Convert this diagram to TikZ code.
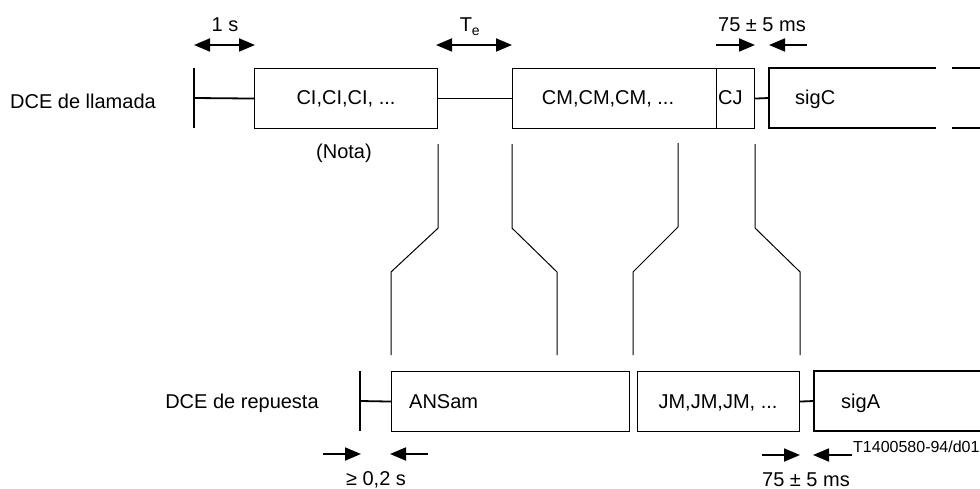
\documentclass[tikz,border=0pt]{standalone}
\usepackage{fontspec}
\setmainfont{Liberation Sans}
\usetikzlibrary{arrows.meta,calc}
\tikzset{
  lbl/.style={inner sep=0pt, font=\fontsize{20}{24}\selectfont, anchor=base},
  lblw/.style={lbl, anchor=base west},
  small/.style={inner sep=0pt, font=\fontsize{16}{19}\selectfont, anchor=base west},
  sigbox/.style={draw, line width=1.1pt, inner sep=0pt, minimum height=60pt, anchor=north west},
  thick line/.style={line width=1.8pt},
  conn/.style={line width=1pt},
  dimarr/.style={line width=1.8pt, -{Triangle[length=16pt,width=13pt]}},
  dimarr2/.style={line width=1.8pt, {Triangle[length=16pt,width=13pt]}-{Triangle[length=16pt,width=13pt]}},
}
\begin{document}
\begin{tikzpicture}[x=1pt,y=-1pt]
\useasboundingbox (0,0) rectangle (980,489);

% ---------- top row: DCE de llamada ----------
\coordinate (t0top) at (194,68);
\coordinate (t0bot) at (194,128);
\coordinate (t0mid) at (194,98);
\draw[thick line] (t0top) -- (t0bot);
\node[sigbox, minimum width=183pt] (ci) at (254,68) {};
\node[sigbox, minimum width=204pt] (cm) at (512,68) {};
\node[sigbox, minimum width=38pt] (cj) at (716,68) {};
\draw[thick line] (t0mid) -- (ci.west);
\draw[thick line] (ci.east) -- (cm.west);
\coordinate (sigCtr) at (936,68);
\coordinate (sigCtl) at (769,68);
\coordinate (sigCbl) at (769,128);
\coordinate (sigCbr) at (936,128);
\coordinate (sigCml) at (769,98);
\draw[line width=1.1pt] (sigCtr) -- (sigCtl) -- (sigCbl) -- (sigCbr);
\draw[thick line] (cj.east) -- (sigCml);
\coordinate (e1a) at (952,68); \coordinate (e1b) at (980,68);
\coordinate (e2a) at (952,128); \coordinate (e2b) at (980,128);
\draw[thick line] (e1a) -- (e1b);
\draw[thick line] (e2a) -- (e2b);

\node[lbl] (llamada) at (83,109) {DCE de llamada};
\node[lbl] (citxt) at (346,105) {CI,CI,CI, ...};
\node[lbl] (cmtxt) at (608,105) {CM,CM,CM, ...};
\node[lblw] (cjtxt) at (718,105) {CJ};
\node[lblw] (sigctxt) at (795,105) {sigC};
\node[lbl] (nota) at (344,159) {(Nota)};

% ---------- top dimension arrows ----------
\coordinate (a1l) at (194,45); \coordinate (a1r) at (255,45);
\draw[dimarr2] (a1l) -- (a1r);
\node[lbl] (one) at (225,32) {1 s};
\coordinate (a2l) at (436,45); \coordinate (a2r) at (512,45);
\draw[dimarr2] (a2l) -- (a2r);
\node[lbl] (te) at (470,32) {T\textsubscript{e}};
\coordinate (a3s) at (716,45); \coordinate (a3e) at (755,45);
\coordinate (a4s) at (807,45); \coordinate (a4e) at (769,45);
\draw[dimarr] (a3s) -- (a3e);
\draw[dimarr] (a4s) -- (a4e);
\node[lbl] (t75) at (762,32) {75 ± 5 ms};

% ---------- bottom row: DCE de repuesta ----------
\coordinate (b0top) at (360,371);
\coordinate (b0bot) at (360,431);
\coordinate (b0mid) at (360,401);
\draw[thick line] (b0top) -- (b0bot);
\node[sigbox, minimum width=238pt] (ans) at (391,371) {};
\node[sigbox, minimum width=162pt] (jm) at (637,371) {};
\draw[thick line] (b0mid) -- (ans.west);
\coordinate (sigAtr) at (980,371);
\coordinate (sigAtl) at (814,371);
\coordinate (sigAbl) at (814,431);
\coordinate (sigAbr) at (980,431);
\coordinate (sigAml) at (814,401);
\draw[line width=1.1pt] (sigAtr) -- (sigAtl) -- (sigAbl) -- (sigAbr);
\draw[thick line] (jm.east) -- (sigAml);

\node[lbl] (repuesta) at (242,408) {DCE de repuesta};
\node[lblw] (anstxt) at (409,408) {ANSam};
\node[lbl] (jmtxt) at (718,408) {JM,JM,JM, ...};
\node[lblw] (sigatxt) at (841,408) {sigA};

% ---------- connectors ----------
\coordinate (c1a) at ($(ci.south east)+(0,15)$);
\coordinate (c1b) at ($(ans.north west)+(0,-16)$);
\draw[conn] (c1a) -- ++(0,84) -- ($(c1b)+(0,-83)$) -- (c1b);
\coordinate (c2a) at ($(cm.south west)+(0,15)$);
\coordinate (c2b) at (557,355);
\draw[conn] (c2a) -- ++(0,84) -- ($(c2b)+(0,-83)$) -- (c2b);
\coordinate (c3a) at (678,143);
\coordinate (c3b) at (633,355);
\draw[conn] (c3a) -- ++(0,84) -- ($(c3b)+(0,-83)$) -- (c3b);
\coordinate (c4a) at ($(cj.south east)+(0,15)$);
\coordinate (c4b) at ($(jm.north east)+(0,-16)$);
\draw[conn] (c4a) -- ++(0,84) -- ($(c4b)+(0,-83)$) -- (c4b);

% ---------- bottom dimension arrows ----------
\coordinate (b1s) at (323,454); \coordinate (b1e) at (361,454);
\coordinate (b2s) at (428,454); \coordinate (b2e) at (390,454);
\draw[dimarr] (b1s) -- (b1e);
\draw[dimarr] (b2s) -- (b2e);
\node[lbl] (ge) at (376,485) {≥ 0,2 s};
\coordinate (b3s) at (762,455); \coordinate (b3e) at (800,455);
\coordinate (b4s) at (852,455); \coordinate (b4e) at (813,455);
\draw[dimarr] (b3s) -- (b3e);
\draw[dimarr] (b4s) -- (b4e);
\node[lbl] (b75) at (806,486) {75 ± 5 ms};
\node[small] (ref) at (853,452) {T1400580-94/d01};
\end{tikzpicture}
\end{document}
